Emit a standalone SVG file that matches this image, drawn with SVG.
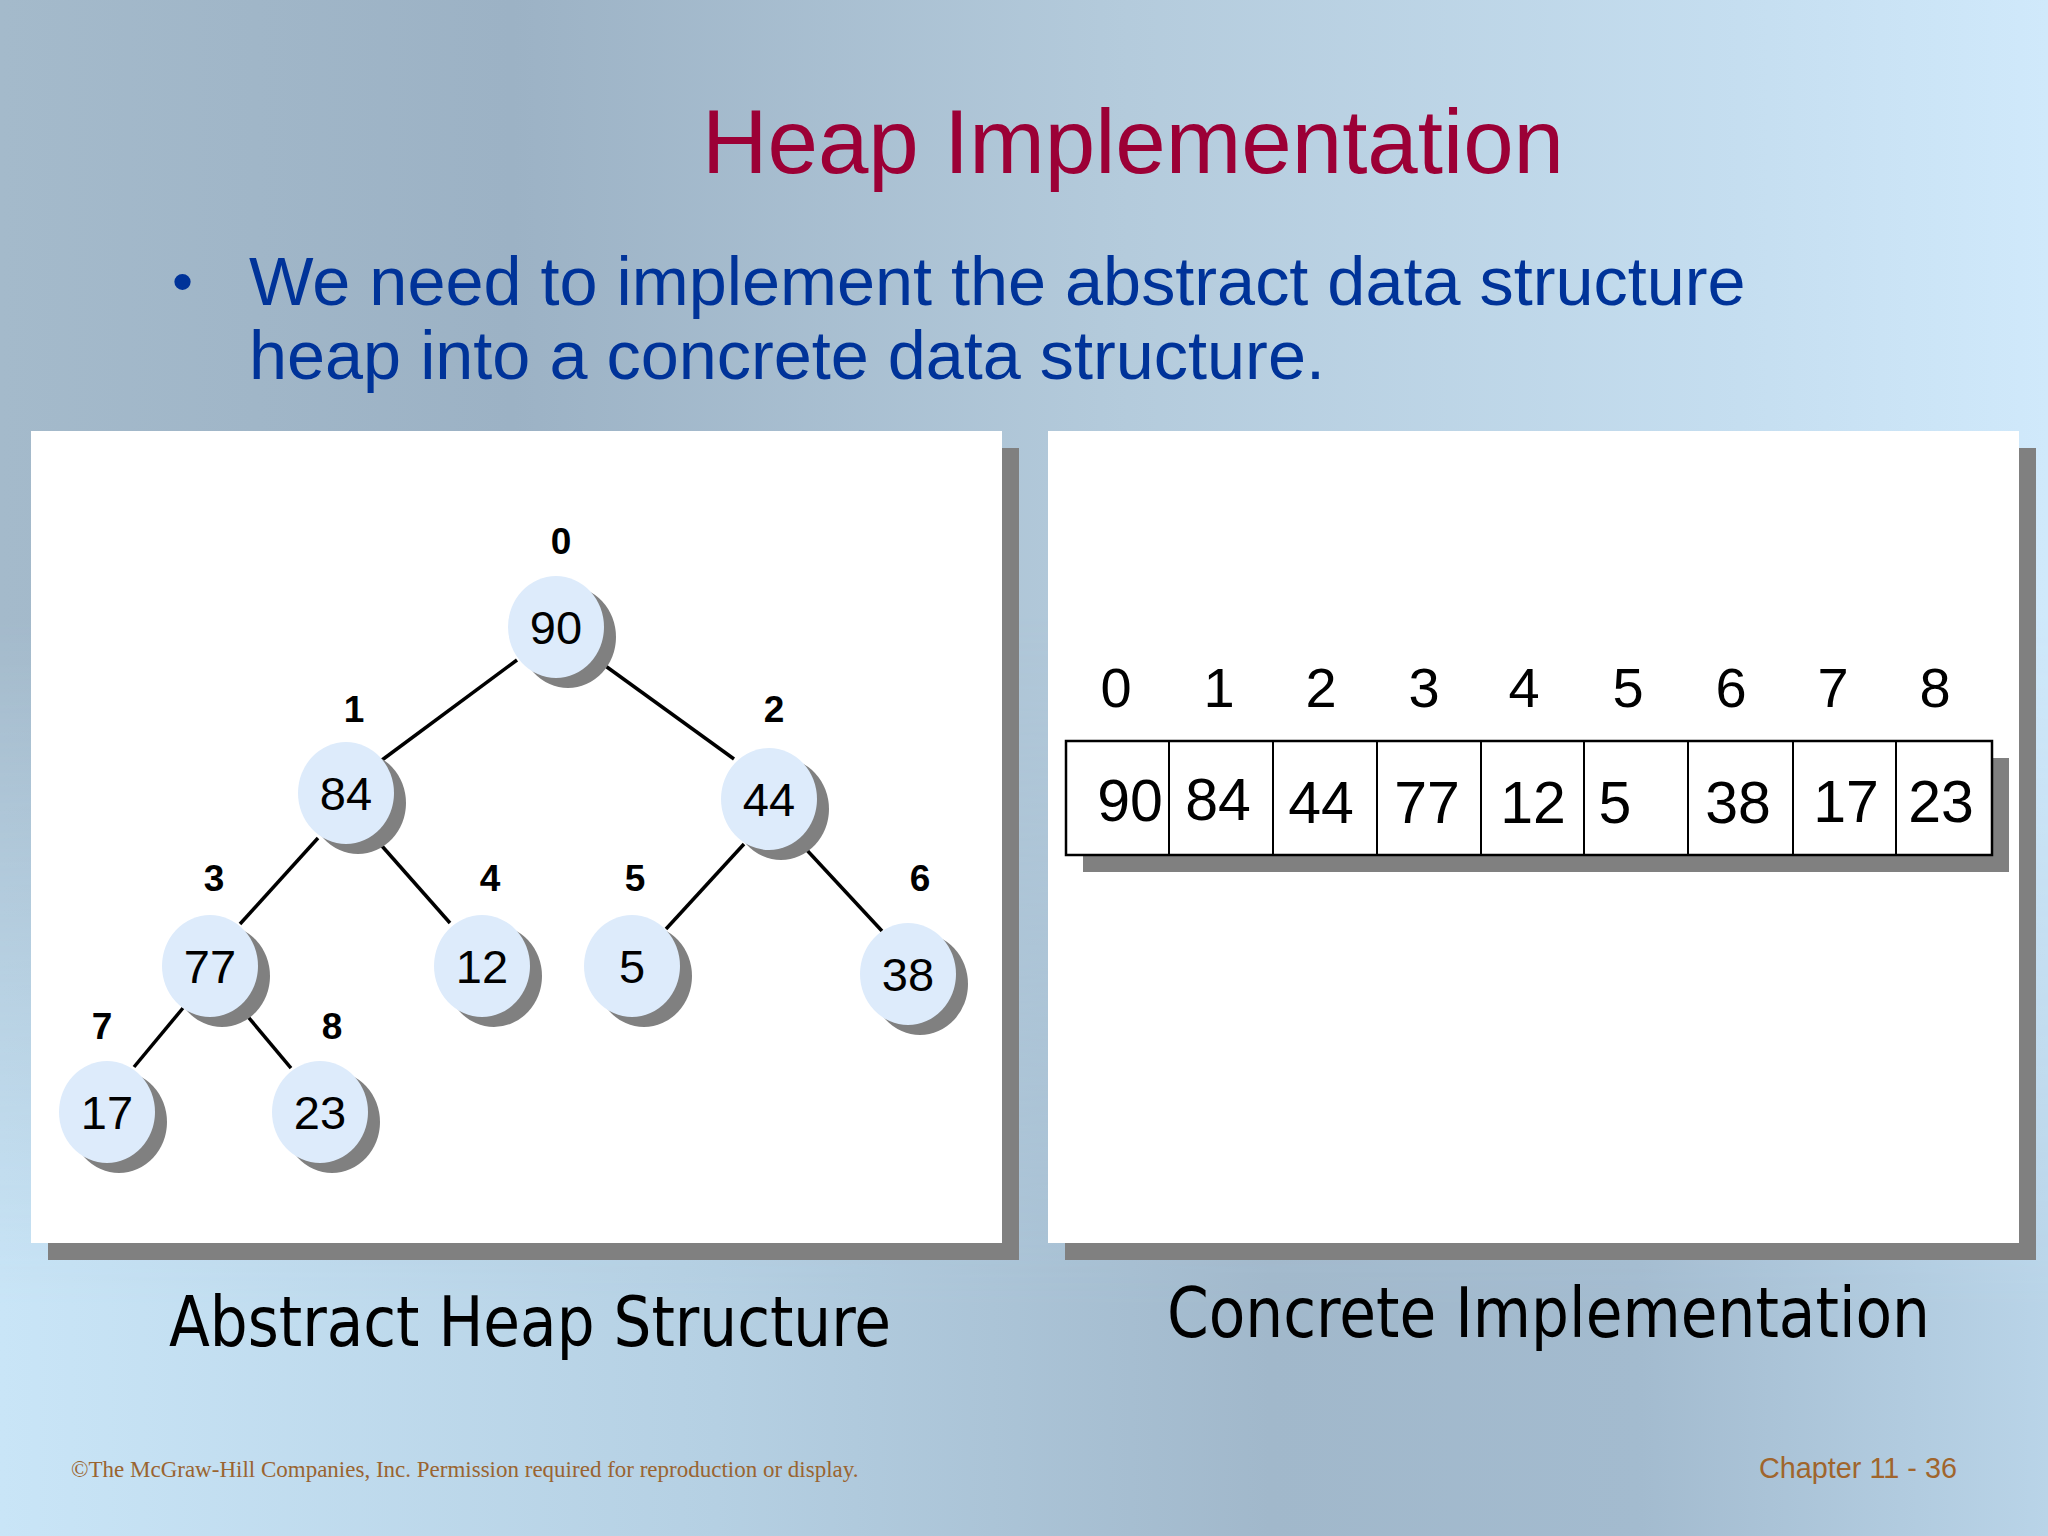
<svg xmlns="http://www.w3.org/2000/svg" width="2048" height="1536" viewBox="0 0 2048 1536">
<defs>
<linearGradient id="bgTop" x1="0" y1="0" x2="1" y2="0">
<stop offset="0" stop-color="#a4bacb"/>
<stop offset="0.25" stop-color="#9cb2c5"/>
<stop offset="0.55" stop-color="#b4cbdc"/>
<stop offset="0.85" stop-color="#c5def0"/>
<stop offset="1" stop-color="#d0e9fb"/>
</linearGradient>
<linearGradient id="bgBot" x1="0" y1="0" x2="1" y2="0">
<stop offset="0" stop-color="#c9e5f7"/>
<stop offset="0.35" stop-color="#b5d0e3"/>
<stop offset="0.62" stop-color="#a1b8cb"/>
<stop offset="0.8" stop-color="#a3bbcf"/>
<stop offset="1" stop-color="#b9d4e8"/>
</linearGradient>
<linearGradient id="fadeV" x1="0" y1="0" x2="0" y2="1">
<stop offset="0.4" stop-color="#fff" stop-opacity="0"/>
<stop offset="0.85" stop-color="#fff" stop-opacity="1"/>
</linearGradient>
<mask id="botMask">
<rect x="0" y="0" width="2048" height="1536" fill="url(#fadeV)"/>
</mask>
</defs>
<style>
.node-bg{fill:#ddebfb}
.node-sh{fill:#808080}
.val{font-family:"Liberation Sans",Arial,sans-serif;font-size:47px;fill:#000;text-anchor:middle}
.idx{font-family:"Liberation Sans",Arial,sans-serif;font-size:37px;font-weight:bold;fill:#000;text-anchor:middle}
.edge{stroke:#000;stroke-width:3.5;fill:none}
.panel{fill:#fff}
.psh{fill:#808080}
.aidx{font-family:"Liberation Sans",Arial,sans-serif;font-size:56px;fill:#000;text-anchor:middle}
.aval{font-family:"Liberation Sans",Arial,sans-serif;font-size:59px;fill:#000;text-anchor:middle}
.cap{font-family:"DejaVu Sans Condensed","DejaVu Sans",sans-serif;font-size:70px;fill:#000}
</style>
<rect x="0" y="0" width="2048" height="1536" fill="url(#bgTop)"/>
<rect x="0" y="0" width="2048" height="1536" fill="url(#bgBot)" mask="url(#botMask)"/>

<text x="702" y="173" font-family="'Liberation Sans',Arial,sans-serif" font-size="90" fill="#9c0036" textLength="862" lengthAdjust="spacingAndGlyphs">Heap Implementation</text>
<text x="172" y="302" font-family="'Liberation Sans',Arial,sans-serif" font-size="60" fill="#003399">•</text>
<text x="249" y="305" font-family="'Liberation Sans',Arial,sans-serif" font-size="68.4" fill="#003399">We need to implement the abstract data structure</text>
<text x="249" y="379" font-family="'Liberation Sans',Arial,sans-serif" font-size="68.4" fill="#003399">heap into a concrete data structure.</text>

<g id="panel-left">
<rect class="psh" x="48" y="448" width="971" height="812"/>
<rect class="panel" x="31" y="431" width="971" height="812"/>
</g>
<g id="panel-right">
<rect class="psh" x="1065" y="448" width="971" height="812"/>
<rect class="panel" x="1048" y="431" width="971" height="812"/>
</g>

<g id="connectors">
<line class="edge" x1="517" y1="660" x2="382" y2="760"/>
<line class="edge" x1="600" y1="662" x2="734" y2="759"/>
<line class="edge" x1="318" y1="838" x2="240" y2="924"/>
<line class="edge" x1="374" y1="837" x2="450" y2="923"/>
<line class="edge" x1="744" y1="844" x2="666" y2="929"/>
<line class="edge" x1="804" y1="847" x2="882" y2="931"/>
<line class="edge" x1="183" y1="1008" x2="134" y2="1067"/>
<line class="edge" x1="244" y1="1012" x2="291" y2="1068"/>
</g>

<g id="node-0">
<ellipse class="node-sh" cx="568" cy="637" rx="48" ry="51"/>
<ellipse class="node-bg" cx="556" cy="627" rx="48" ry="51"/>
<text class="val" x="556" y="644">90</text>
<text class="idx" x="561" y="554">0</text>
</g>
<g id="node-1">
<ellipse class="node-sh" cx="358" cy="803" rx="48" ry="51"/>
<ellipse class="node-bg" cx="346" cy="793" rx="48" ry="51"/>
<text class="val" x="346" y="810">84</text>
<text class="idx" x="354" y="722">1</text>
</g>
<g id="node-2">
<ellipse class="node-sh" cx="781" cy="809" rx="48" ry="51"/>
<ellipse class="node-bg" cx="769" cy="799" rx="48" ry="51"/>
<text class="val" x="769" y="816">44</text>
<text class="idx" x="774" y="722">2</text>
</g>
<g id="node-3">
<ellipse class="node-sh" cx="222" cy="976" rx="48" ry="51"/>
<ellipse class="node-bg" cx="210" cy="966" rx="48" ry="51"/>
<text class="val" x="210" y="983">77</text>
<text class="idx" x="214" y="891">3</text>
</g>
<g id="node-4">
<ellipse class="node-sh" cx="494" cy="976" rx="48" ry="51"/>
<ellipse class="node-bg" cx="482" cy="966" rx="48" ry="51"/>
<text class="val" x="482" y="983">12</text>
<text class="idx" x="490" y="891">4</text>
</g>
<g id="node-5">
<ellipse class="node-sh" cx="644" cy="976" rx="48" ry="51"/>
<ellipse class="node-bg" cx="632" cy="966" rx="48" ry="51"/>
<text class="val" x="632" y="983">5</text>
<text class="idx" x="635" y="891">5</text>
</g>
<g id="node-6">
<ellipse class="node-sh" cx="920" cy="984" rx="48" ry="51"/>
<ellipse class="node-bg" cx="908" cy="974" rx="48" ry="51"/>
<text class="val" x="908" y="991">38</text>
<text class="idx" x="920" y="891">6</text>
</g>
<g id="node-7">
<ellipse class="node-sh" cx="119" cy="1122" rx="48" ry="51"/>
<ellipse class="node-bg" cx="107" cy="1112" rx="48" ry="51"/>
<text class="val" x="107" y="1129">17</text>
<text class="idx" x="102" y="1039">7</text>
</g>
<g id="node-8">
<ellipse class="node-sh" cx="332" cy="1122" rx="48" ry="51"/>
<ellipse class="node-bg" cx="320" cy="1112" rx="48" ry="51"/>
<text class="val" x="320" y="1129">23</text>
<text class="idx" x="332" y="1039">8</text>
</g>

<g id="array">
<rect x="1083" y="758" width="926" height="114" fill="#808080"/>
<rect x="1066" y="741" width="926" height="114" fill="#fff" stroke="#000" stroke-width="2.5"/>
<g stroke="#000" stroke-width="2">
<line x1="1169" y1="741" x2="1169" y2="855"/>
<line x1="1273" y1="741" x2="1273" y2="855"/>
<line x1="1377" y1="741" x2="1377" y2="855"/>
<line x1="1481" y1="741" x2="1481" y2="855"/>
<line x1="1584" y1="741" x2="1584" y2="855"/>
<line x1="1688" y1="741" x2="1688" y2="855"/>
<line x1="1793" y1="741" x2="1793" y2="855"/>
<line x1="1896" y1="741" x2="1896" y2="855"/>
</g>
<text class="aidx" x="1116" y="707">0</text>
<text class="aidx" x="1219" y="707">1</text>
<text class="aidx" x="1321" y="707">2</text>
<text class="aidx" x="1424" y="707">3</text>
<text class="aidx" x="1524" y="707">4</text>
<text class="aidx" x="1628" y="707">5</text>
<text class="aidx" x="1731" y="707">6</text>
<text class="aidx" x="1833" y="707">7</text>
<text class="aidx" x="1935" y="707">8</text>
<text class="aval" x="1130" y="821">90</text>
<text class="aval" x="1218" y="820">84</text>
<text class="aval" x="1321" y="823">44</text>
<text class="aval" x="1427" y="823">77</text>
<text class="aval" x="1533" y="823">12</text>
<text class="aval" x="1615" y="823">5</text>
<text class="aval" x="1738" y="823">38</text>
<text class="aval" x="1846" y="822">17</text>
<text class="aval" x="1941" y="822">23</text>
</g>

<text class="cap" x="169" y="1346" textLength="722" lengthAdjust="spacingAndGlyphs">Abstract Heap Structure</text>
<text class="cap" x="1167" y="1337" textLength="763" lengthAdjust="spacingAndGlyphs">Concrete Implementation</text>

<text x="71" y="1477" font-family="'Liberation Serif','Times New Roman',serif" font-size="23" fill="#9a6430">©The McGraw-Hill Companies, Inc. Permission required for reproduction or display.</text>
<text x="1759" y="1478" font-family="'Liberation Sans',Arial,sans-serif" font-size="28.8" fill="#a0652c">Chapter 11 - 36</text>
</svg>
